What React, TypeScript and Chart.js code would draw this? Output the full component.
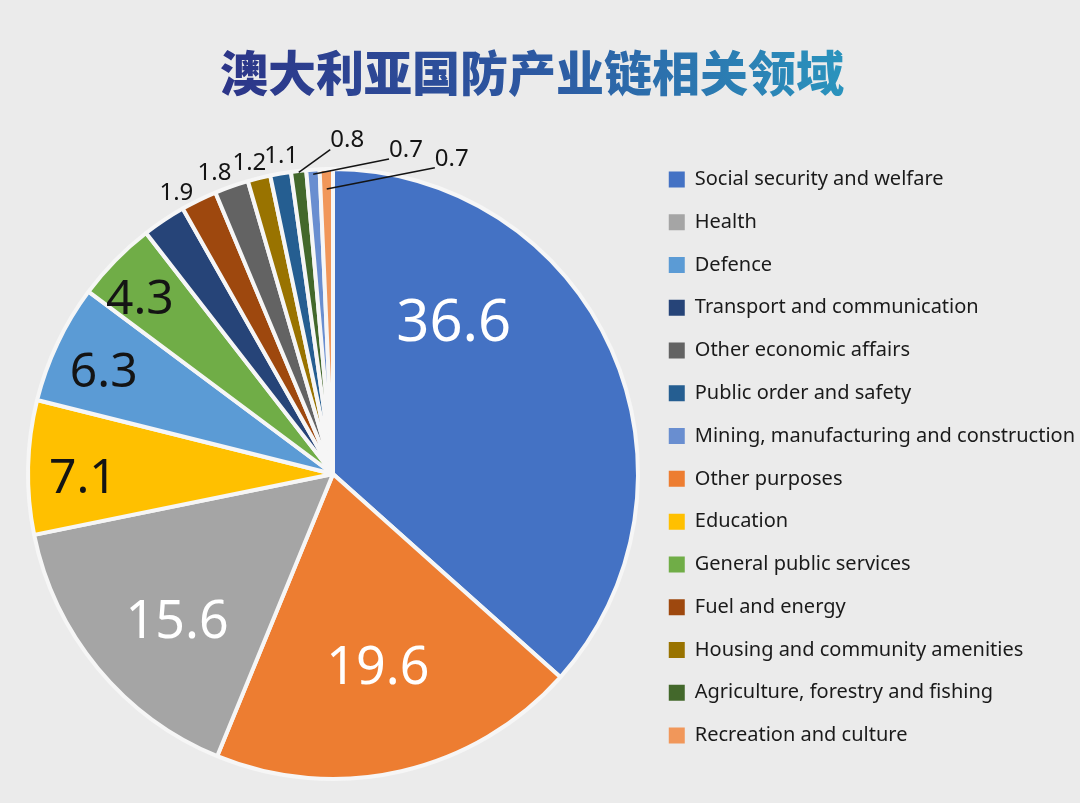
import React, { useEffect, useRef } from 'react';
import { Chart, registerables } from 'chart.js';

Chart.register(...registerables);

// trailing en + four-per-em space nudges the centred title to the left, as in the reference
const chartTitle = '澳大利亚国防产业链相关领域\u2002\u2005';

const categories = [
  'Social security and welfare',
  'Other purposes',
  'Health',
  'Education',
  'Defence',
  'General public services',
  'Transport and communication',
  'Fuel and energy',
  'Other economic affairs',
  'Housing and community amenities',
  'Public order and safety',
  'Agriculture, forestry and fishing',
  'Mining, manufacturing and construction',
  'Recreation and culture',
];

const shares = [36.6, 19.6, 15.6, 7.1, 6.3, 4.3, 2.3, 1.9, 1.8, 1.2, 1.1, 0.8, 0.7, 0.7];

const sliceColors = [
  '#4472C4', '#ED7D31', '#A5A5A5', '#FFC000', '#5B9BD5', '#70AD47', '#264478',
  '#9E480E', '#636363', '#997300', '#255E91', '#43682B', '#698ED0', '#F1975A',
];

const legendOrder = [
  'Social security and welfare',
  'Health',
  'Defence',
  'Transport and communication',
  'Other economic affairs',
  'Public order and safety',
  'Mining, manufacturing and construction',
  'Other purposes',
  'Education',
  'General public services',
  'Fuel and energy',
  'Housing and community amenities',
  'Agriculture, forestry and fishing',
  'Recreation and culture',
];

const BG = '#ebebeb';

// label placement relative to each slice (angle fraction within slice, radius factor)
type LabelSpec =
  | { mode: 'in'; t: number; r: number; size: number; color: string }
  | { mode: 'leader'; shift: number; r: number; from: number; size: number; color: string }
  | null;

const labelSpecs: LabelSpec[] = [
  { mode: 'in', t: 0.29, r: 0.64, size: 58, color: '#ffffff' },
  { mode: 'in', t: 0.497, r: 0.645, size: 52, color: '#ffffff' },
  { mode: 'in', t: 0.438, r: 0.7, size: 52, color: '#ffffff' },
  { mode: 'in', t: 0.43, r: 0.82, size: 48, color: '#141414' },
  { mode: 'in', t: 0.46, r: 0.826, size: 48, color: '#141414' },
  { mode: 'in', t: 0.38, r: 0.86, size: 48, color: '#141414' },
  null,
  { mode: 'in', t: 0.08, r: 1.06, size: 24, color: '#141414' },
  { mode: 'in', t: 0.2, r: 1.065, size: 24, color: '#141414' },
  { mode: 'in', t: 0.28, r: 1.06, size: 24, color: '#141414' },
  { mode: 'in', t: 0.68, r: 1.062, size: 24, color: '#141414' },
  { mode: 'leader', shift: 8.9, r: 1.1, from: 0.995, size: 24, color: '#141414' },
  { mode: 'leader', shift: 16.4, r: 1.095, from: 0.985, size: 24, color: '#141414' },
  { mode: 'leader', shift: 21.8, r: 1.11, from: 0.935, size: 24, color: '#141414' },
];

const valueLabelPlugin = {
  id: 'valueLabels',
  afterDatasetsDraw(chart: any) {
    const ctx = chart.ctx as CanvasRenderingContext2D;
    const meta = chart.getDatasetMeta(0);
    meta.data.forEach((arc: any, i: number) => {
      const spec = labelSpecs[i];
      if (!spec) return;
      const { x, y, startAngle, endAngle, outerRadius } = arc.getProps(
        ['x', 'y', 'startAngle', 'endAngle', 'outerRadius'],
        true
      );
      const R = outerRadius;
      const mid = (startAngle + endAngle) / 2;
      let a: number;
      if (spec.mode === 'leader') a = mid + (spec.shift * Math.PI) / 180;
      else a = startAngle + spec.t * (endAngle - startAngle);
      const r = spec.r * R;
      const lx = x + r * Math.cos(a);
      const ly = y + r * Math.sin(a);
      const text = shares[i].toFixed(1);
      ctx.save();
      ctx.font = `${spec.size}px 'Noto Sans', 'Open Sans', sans-serif`;
      ctx.fillStyle = spec.color;
      ctx.textAlign = 'center';
      ctx.textBaseline = 'alphabetic';
      ctx.fillText(text, lx, ly + spec.size * 0.357);
      if (spec.mode === 'leader') {
        const w = ctx.measureText(text).width;
        const sx = x + spec.from * R * Math.cos(mid);
        const sy = y + spec.from * R * Math.sin(mid);
        const ex = lx - w / 2;
        const ey = ly + spec.size * 0.45;
        ctx.strokeStyle = '#141414';
        ctx.lineWidth = 1.5;
        ctx.beginPath();
        ctx.moveTo(sx, sy);
        ctx.lineTo(ex, ey);
        ctx.stroke();
      }
      ctx.restore();
    });
  },
};

export default function App() {
  const canvasRef = useRef<HTMLCanvasElement | null>(null);

  useEffect(() => {
    const canvas = canvasRef.current;
    if (!canvas) return;
    const ctx2d = canvas.getContext('2d') as CanvasRenderingContext2D;
    // the title is drawn translated to its centre, so the gradient is relative to it
    const titleGradient = ctx2d.createLinearGradient(-328, 0, 328, 0);
    titleGradient.addColorStop(0, '#2c3588');
    titleGradient.addColorStop(0.5, '#2d5ba3');
    titleGradient.addColorStop(1, '#2a9ac0');

    const baseGenerate = (Chart as any).overrides.pie.plugins.legend.labels.generateLabels;

    const chart = new Chart(canvas, {
      type: 'pie',
      data: {
        labels: categories,
        datasets: [
          {
            data: shares,
            backgroundColor: sliceColors,
            borderColor: '#f6f6f6',
            borderWidth: 4,
            hoverOffset: 0,
            radius: 305,
          } as any,
        ],
      },
      options: {
        responsive: false,
        animation: false,
        layout: { padding: { left: 20, right: 0, top: 0, bottom: 1.7 } },
        plugins: {
          title: {
            display: true,
            text: chartTitle,
            color: titleGradient as any,
            font: { family: "'Noto Sans CJK SC', sans-serif", size: 48, weight: 900 as any, lineHeight: 1.2 },
            padding: { top: 44, bottom: 45.1 },
          },
          legend: {
            display: true,
            position: 'right',
            align: 'start',
            fullSize: false,
            maxWidth: 434,
            labels: {
              boxWidth: 16,
              boxHeight: 16,
              padding: 22.77,
              color: '#1a1a1a',
              font: { family: "'Noto Sans', 'Open Sans', sans-serif", size: 20 },
              sort: (a: any, b: any) => legendOrder.indexOf(a.text) - legendOrder.indexOf(b.text),
              generateLabels: (c: any) =>
                baseGenerate(c).map((l: any) => ({ ...l, lineWidth: 0, strokeStyle: 'rgba(0,0,0,0)' })),
            },
          },
          tooltip: { enabled: false },
        },
      },
      plugins: [valueLabelPlugin],
    });

    return () => chart.destroy();
  }, []);

  return (
    <div
      style={{
        position: 'fixed',
        left: 0,
        top: 0,
        width: 1080,
        height: 803,
        background: BG,
      }}
    >
      <canvas ref={canvasRef} width={1080} height={803} style={{ display: 'block' }} />
    </div>
  );
}
